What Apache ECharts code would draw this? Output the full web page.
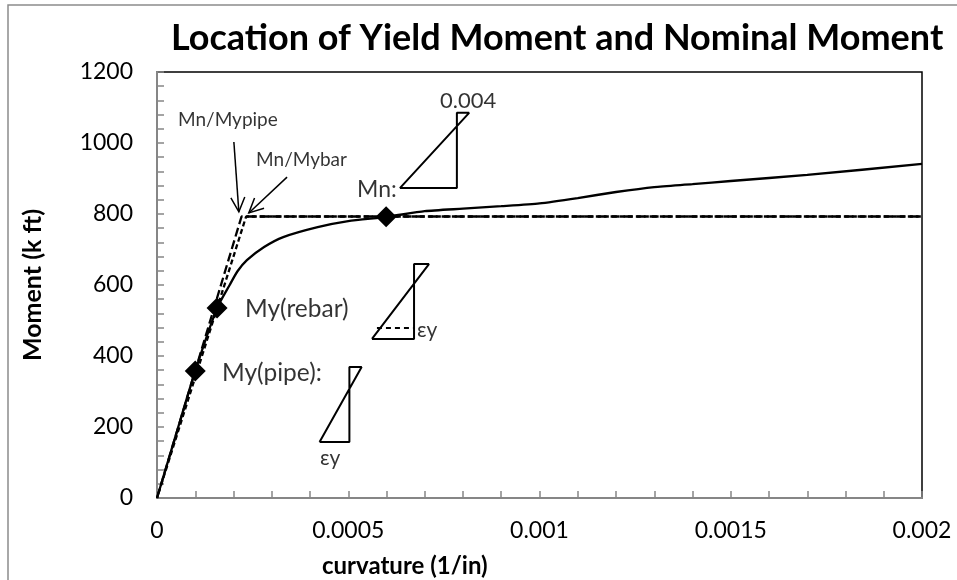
<!DOCTYPE html>
<html>
<head>
<meta charset="utf-8">
<script src="https://cdn.jsdelivr.net/npm/echarts@6/dist/echarts.min.js"></script>
<style>
  html, body { margin: 0; padding: 0; background: #fff; }
  #main { width: 957px; height: 580px; }
</style>
</head>
<body>
<div id="main"></div>
<script>
// moment-curvature curve (solid)
var curvature = [0, 0.00005, 0.0001, 0.000157, 0.00019, 0.00021, 0.000235, 0.00028, 0.00033, 0.00042, 0.0005, 0.0006,
                 0.0007, 0.0008, 0.0009, 0.001, 0.0011, 0.0012, 0.0013, 0.0014, 0.0015, 0.0017, 0.002];
var moment = [0, 180, 358, 535, 600, 638, 670, 707, 735, 763, 780, 792,
              808, 815, 822, 830, 845, 862, 876, 884, 893, 910, 941];

// idealized bilinear lines (dashed)
var pipeIdealX = [0, 0.000221, 0.002];
var pipeIdealY = [0, 793, 793];
var barIdealX = [0, 0.000233, 0.002];
var barIdealY = [0, 793, 793];

// key points (diamonds)
var keyX = [0.0001, 0.000157, 0.000599];
var keyY = [358, 535, 792];

// axis tick labels
var xTickLabels = ['0', '0.0005', '0.001', '0.0015', '0.002'];
var yTickLabels = ['0', '200', '400', '600', '800', '1000', '1200'];

// strain diagram sketches (data space)
var mnTri = [[0.000635, 873], [0.000784, 873], [0.000784, 1085], [0.000816, 1085], [0.000635, 873]];
var rebarTri = [[0.000562, 448], [0.000672, 448], [0.000672, 659], [0.000711, 659], [0.000562, 448]];
var rebarEps = [[0.000575, 479], [0.000672, 479]];
var pipeTri = [[0.000425, 158], [0.000503, 158], [0.000503, 369], [0.000535, 369], [0.000425, 158]];

// arrows [x1, y1, x2, y2]
var arrows = [[0.000201, 1003, 0.000214, 806], [0.00034, 904, 0.00024, 803]];

// text notes
var noteText = ['Mn/Mypipe', 'Mn/Mybar', 'Mn:', '0.004', 'My(rebar)', 'My(pipe):', 'εy', 'εy'];
var noteX = [0.0000549, 0.000259, 0.000523, 0.00074, 0.00023, 0.00017, 0.00068, 0.000426];
var noteY = [1065, 952, 870, 1118, 532, 352, 473, 113];
var noteSize = [19, 19, 23, 22, 24.5, 24.5, 21, 21];

function zip(a, b) {
  return a.map(function (v, i) { return [v, b[i]]; });
}

var FONT = 'Lato, "Liberation Sans", sans-serif';
var chart = echarts.init(document.getElementById('main'));

var notes = noteText.map(function (t, i) {
  return {
    value: [noteX[i], noteY[i]],
    label: { formatter: t, fontSize: noteSize[i] }
  };
});

function shape(data, dashed) {
  return {
    type: 'line', data: data, symbol: 'none', silent: true, z: 4,
    lineStyle: { color: '#000', width: 2, type: dashed ? [5, 4] : 'solid' }
  };
}

var option = {
  animation: false,
  title: {
    text: 'Location of Yield Moment and Nominal Moment',
    left: 166, top: 15,
    textStyle: { fontFamily: FONT, fontSize: 36, fontWeight: 'bold', color: '#000' }
  },
  graphic: [
    { type: 'rect', shape: { x: 8, y: 5, width: 1000, height: 700 },
      style: { fill: null, stroke: '#8c8c8c', lineWidth: 1.5 }, silent: true },
    { type: 'text', left: 322, top: 554,
      style: { text: 'curvature (1/in)', font: 'bold 24px ' + FONT, fill: '#000' } }
  ],
  grid: {
    left: 157, top: 72, right: 35, bottom: 82,
    show: true, borderColor: '#000', borderWidth: 1.5, backgroundColor: '#fff'
  },
  xAxis: {
    type: 'value', min: 0, max: 0.002, interval: 0.0005,
    axisLine: { show: true, lineStyle: { color: '#868686', width: 2 } },
    axisTick: { show: true, inside: true, length: 7, lineStyle: { color: '#868686', width: 1.5 } },
    minorTick: { show: true, splitNumber: 5, length: 7, lineStyle: { color: '#868686', width: 1.5 } },
    splitLine: { show: false },
    axisLabel: {
      margin: 21, fontFamily: FONT, fontSize: 23, color: '#000',
      formatter: function (v) { return xTickLabels[Math.round(v / 0.0005)]; }
    }
  },
  yAxis: {
    type: 'value', min: 0, max: 1200, interval: 200,
    name: 'Moment (k ft)', nameLocation: 'middle', nameGap: 112,
    nameTextStyle: { fontFamily: FONT, fontSize: 25, fontWeight: 'bold', color: '#000' },
    axisLine: { show: true, lineStyle: { color: '#868686', width: 2 } },
    axisTick: { show: true, inside: true, length: 7, lineStyle: { color: '#868686', width: 1.5 } },
    minorTick: { show: true, splitNumber: 5, length: 7, lineStyle: { color: '#868686', width: 1.5 } },
    splitLine: { show: false },
    axisLabel: {
      margin: 24, fontFamily: FONT, fontSize: 23, color: '#000',
      formatter: function (v) { return yTickLabels[Math.round(v / 200)]; }
    }
  },
  series: [
    {
      type: 'line', data: zip(pipeIdealX, pipeIdealY), symbol: 'none', z: 2,
      lineStyle: { color: '#000', width: 2.3, type: [9, 4] }
    },
    {
      type: 'line', data: zip(barIdealX, barIdealY), symbol: 'none', z: 2,
      lineStyle: { color: '#000', width: 2.3, type: [5, 3], dashOffset: 3 }
    },
    {
      type: 'line', data: zip(curvature, moment), symbol: 'none', smooth: 0.2, z: 3,
      lineStyle: { color: '#000', width: 2.3 }
    },
    {
      type: 'scatter', data: zip(keyX, keyY), symbol: 'diamond', symbolSize: [21, 21], z: 5,
      itemStyle: { color: '#000', opacity: 1 }
    },
    shape(mnTri, false),
    shape(rebarTri, false),
    shape(rebarEps, true),
    shape(pipeTri, false),
    {
      type: 'custom', z: 6, silent: true,
      data: arrows,
      encode: { x: [0, 2], y: [1, 3] },
      renderItem: function (params, api) {
        var p1 = api.coord([api.value(0), api.value(1)]);
        var p2 = api.coord([api.value(2), api.value(3)]);
        var ang = Math.atan2(p2[1] - p1[1], p2[0] - p1[0]);
        var L = 16, spread = 0.45;
        var h1 = [p2[0] - L * Math.cos(ang - spread), p2[1] - L * Math.sin(ang - spread)];
        var h2 = [p2[0] - L * Math.cos(ang + spread), p2[1] - L * Math.sin(ang + spread)];
        var st = { stroke: '#000', lineWidth: 1.5, fill: null };
        return {
          type: 'group',
          children: [
            { type: 'polyline', shape: { points: [p1, p2] }, style: st },
            { type: 'polyline', shape: { points: [h1, p2, h2] }, style: st }
          ]
        };
      }
    },
    {
      type: 'scatter', data: notes, symbolSize: 0, z: 7, silent: true,
      label: {
        show: true, position: 'right', distance: 0,
        fontFamily: FONT, color: '#000'
      }
    }
  ]
};

chart.setOption(option);
</script>
</body>
</html>
